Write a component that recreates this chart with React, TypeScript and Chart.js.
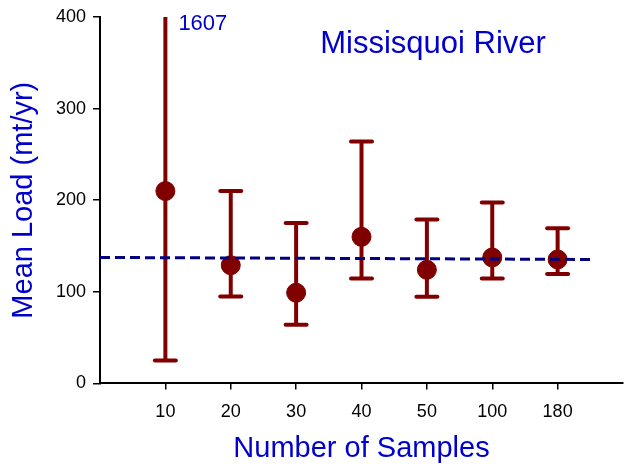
import React, { useEffect, useRef } from 'react';
import { Chart, registerables } from 'chart.js';

Chart.register(...registerables);

// ---- data ----
const categories = ['10', '20', '30', '40', '50', '100', '180'];
const meanLoad = [210, 129, 99, 160, 124, 137.5, 135.3];
const upperLoad = [1607, 210, 175, 264, 179, 197.5, 169.5];
const lowerLoad = [25, 95, 64, 114.5, 94.5, 114.5, 119.3];
const trendX = [0, 7.5];
const trendY = [137.5, 135.3];
const yTicks = [0, 100, 200, 300, 400];
const chartTitle = 'Missisquoi River';
const clippedLabel = '1607';
const xTitle = 'Number of Samples';
const yTitle = 'Mean Load (mt/yr)';

const MARK = '#800000';
const BLUE = '#0000CC';
const NAVY = '#000080';
const FONT = 'Arial, "Liberation Sans", Helvetica, sans-serif';

const overlayPlugin = {
  id: 'overlay',
  beforeDatasetsDraw(chart: any) {
    const { ctx, scales } = chart;
    const x = scales.x;
    const y = scales.y;
    ctx.save();
    ctx.strokeStyle = MARK;
    ctx.lineWidth = 4;
    categories.forEach((_, i) => {
      const px = x.getPixelForValue(i + 1);
      const hiVal = Math.min(upperLoad[i], y.max);
      const pTop = y.getPixelForValue(hiVal);
      const pBot = y.getPixelForValue(lowerLoad[i]);
      ctx.lineCap = 'butt';
      ctx.beginPath();
      ctx.moveTo(px, pTop);
      ctx.lineTo(px, pBot);
      ctx.stroke();
      ctx.lineCap = 'round';
      const hw = 10.5;
      if (upperLoad[i] <= y.max) {
        ctx.beginPath();
        ctx.moveTo(px - hw, pTop);
        ctx.lineTo(px + hw, pTop);
        ctx.stroke();
      }
      ctx.beginPath();
      ctx.moveTo(px - hw, pBot);
      ctx.lineTo(px + hw, pBot);
      ctx.stroke();
    });
    ctx.restore();
  },
  afterDraw(chart: any) {
    const { ctx, scales } = chart;
    const x = scales.x;
    const y = scales.y;
    ctx.save();
    ctx.fillStyle = BLUE;
    ctx.textBaseline = 'alphabetic';
    ctx.textAlign = 'center';
    ctx.font = `31px ${FONT}`;
    ctx.fillText(chartTitle, 433, 53);
    const idx = upperLoad.findIndex((v) => v > y.max);
    if (idx >= 0) {
      ctx.textAlign = 'left';
      ctx.font = `22px ${FONT}`;
      ctx.fillText(clippedLabel, x.getPixelForValue(idx + 1) + 13, y.getPixelForValue(y.max) + 13);
    }
    ctx.restore();
  },
};

export default function App() {
  const canvasRef = useRef<HTMLCanvasElement | null>(null);

  useEffect(() => {
    const canvas = canvasRef.current;
    if (!canvas) return;
    const chart = new Chart(canvas, {
      type: 'scatter',
      data: {
        datasets: [
          {
            type: 'line',
            label: 'trend',
            data: trendX.map((v, i) => ({ x: v, y: trendY[i] })),
            borderColor: NAVY,
            borderWidth: 3,
            borderDash: [10, 5],
            pointRadius: 0,
            fill: false,
            order: 0,
          } as any,
          {
            type: 'scatter',
            label: 'mean',
            data: meanLoad.map((v, i) => ({ x: i + 1, y: v })),
            backgroundColor: MARK,
            borderColor: MARK,
            pointRadius: 9.5,
            pointHoverRadius: 9.5,
            order: 1,
          },
        ],
      },
      options: {
        animation: false,
        responsive: false,
        maintainAspectRatio: false,
        devicePixelRatio: 1,
        events: [],
        layout: { autoPadding: false, padding: { top: 17, right: 1, left: 0, bottom: 0 } },
        plugins: {
          legend: { display: false },
          tooltip: { enabled: false },
          title: { display: false },
        },
        scales: {
          x: {
            type: 'linear',
            min: 0,
            max: 8,
            afterBuildTicks: (s: any) => {
              s.ticks = categories.map((_, i) => ({ value: i + 1 }));
            },
            afterFit: (s: any) => {
              s.height = 82.6;
              s.paddingLeft = 0;
              s.paddingRight = 0;
            },
            ticks: {
              autoSkip: false,
              maxRotation: 0,
              padding: 12,
              color: '#000',
              font: { family: FONT, size: 18 },
              callback: (v: any) => categories[Number(v) - 1] ?? '',
            },
            grid: {
              display: true,
              drawOnChartArea: false,
              drawTicks: true,
              tickLength: 6,
              color: '#000',
              lineWidth: 1.5,
            },
            border: { display: true, color: '#000', width: 2 },
            title: {
              display: true,
              text: xTitle,
              color: BLUE,
              font: { family: FONT, size: 29 },
              padding: { top: 0, bottom: 0 },
            },
          },
          y: {
            type: 'linear',
            min: yTicks[0],
            max: yTicks[yTicks.length - 1],
            afterBuildTicks: (s: any) => {
              s.ticks = yTicks.map((v) => ({ value: v }));
            },
            afterFit: (s: any) => {
              s.width = 100;
              s.paddingTop = 0;
              s.paddingBottom = 0;
            },
            ticks: {
              padding: 7,
              color: '#000',
              font: { family: FONT, size: 18 },
            },
            grid: {
              display: true,
              drawOnChartArea: false,
              drawTicks: true,
              tickLength: 7,
              color: '#000',
              lineWidth: 1.5,
            },
            border: { display: true, color: '#000', width: 2 },
            title: {
              display: true,
              text: yTitle,
              color: BLUE,
              font: { family: FONT, size: 29 },
              padding: { top: 7, bottom: 0 },
            },
          },
        },
      },
      plugins: [overlayPlugin],
    });
    return () => chart.destroy();
  }, []);

  return (
    <div style={{ position: 'fixed', left: 0, top: 0, width: 624, height: 466, background: '#fff' }}>
      <canvas ref={canvasRef} width={624} height={466} style={{ display: 'block' }} />
    </div>
  );
}
